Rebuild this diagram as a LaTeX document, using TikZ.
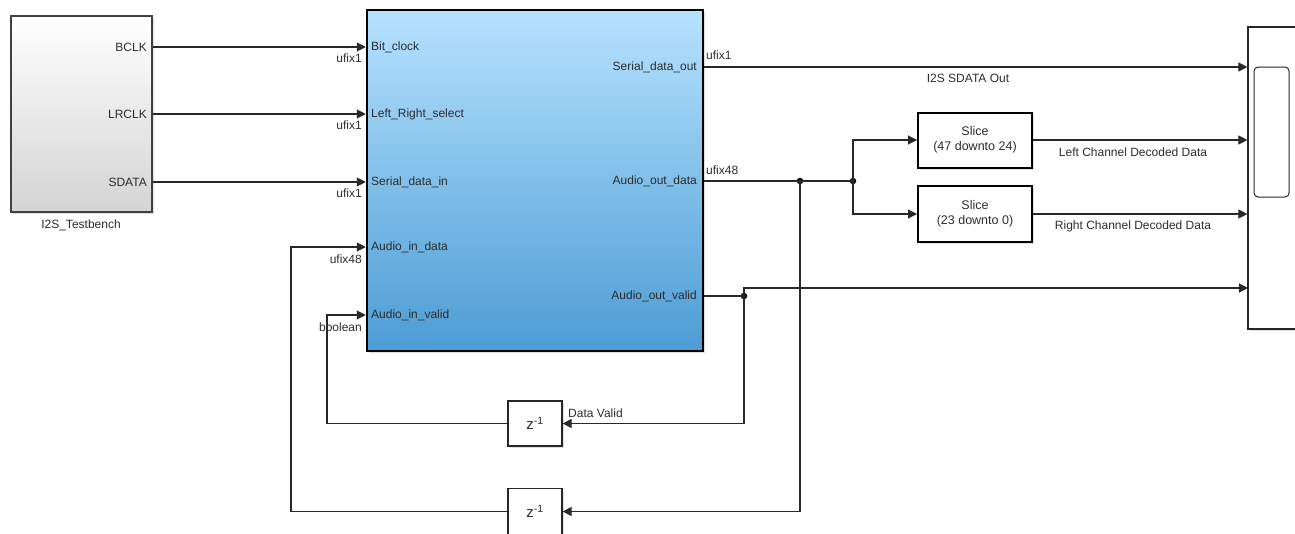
\documentclass[tikz,border=0pt]{standalone}
\usepackage{fontspec}
\setmainfont{Liberation Sans}
\usetikzlibrary{arrows.meta,shadows,calc}
\definecolor{blueTop}{RGB}{182,226,255}
\definecolor{blueBot}{RGB}{76,156,212}
\definecolor{wirec}{RGB}{40,40,40}
\definecolor{txt}{RGB}{45,45,45}
\definecolor{grayBot}{RGB}{212,212,212}
\tikzset{
  wire/.style={draw=wirec, line width=1.1pt, -{Triangle[length=9pt,width=9pt]}},
  plain/.style={draw=wirec, line width=1.1pt},
  lbl/.style={font=\fontsize{12}{14}\selectfont, text=txt, inner sep=0pt},
  shad/.style={drop shadow={shadow xshift=2pt, shadow yshift=-2pt, opacity=0.25}},
  mainblk/.style={draw=black, line width=2.5pt, top color=blueTop, bottom color=blueBot, shad},
  tbblk/.style={draw=black!75, line width=1.3pt, top color=white, bottom color=grayBot, shad},
  sliceblk/.style={draw=black, line width=2pt, fill=white, shad, align=center,
    font=\fontsize{12.5}{15.5}\selectfont, text=txt},
  delayblk/.style={draw=black!85, line width=1.2pt, fill=white, shad,
    font=\fontsize{15}{17}\selectfont, text=txt},
  scopeblk/.style={draw=black!85, line width=1.2pt, fill=white, shad},
  jdot/.style={circle, fill=black, inner sep=0pt, minimum size=6.5pt}
}
\begin{document}
\begin{tikzpicture}[x=1pt,y=-1pt]
\useasboundingbox (0,0) rectangle (1295,533);
\clip (0,0) rectangle (1295,533);
\fill[white] (0,0) rectangle (1295,533);

% blocks
\node[tbblk, minimum width=141pt, minimum height=196pt] (tb) at (81.5,114) {};
\node[lbl] (tbname) at (81,225) {I2S\_Testbench};
\node[mainblk, minimum width=336pt, minimum height=341pt] (dut) at (535,180.5) {};
\node[sliceblk, minimum width=114pt, minimum height=55pt] (s1) at (975,140) {Slice\\(47 downto 24)};
\node[sliceblk, minimum width=114pt, minimum height=56pt] (s2) at (975,214) {Slice\\(23 downto 0)};
\node[delayblk, minimum width=54pt, minimum height=45pt] (d1) at (535,423.5) {z\textsuperscript{-1}};
\node[delayblk, minimum width=54pt, minimum height=46pt] (d2) at (535,511.5) {z\textsuperscript{-1}};
\node[scopeblk, minimum width=60pt, minimum height=302pt] (scope) at (1278,178) {};
\node[draw=black!85, line width=1pt, rounded corners=4pt, minimum width=35pt, minimum height=130pt] (screen) at (1271.5,132) {};

% testbench port labels
\node[lbl, anchor=east] (tbB) at (147,47) {BCLK};
\node[lbl, anchor=east] (tbL) at (147,114) {LRCLK};
\node[lbl, anchor=east] (tbS) at (147,182) {SDATA};

% dut input port labels
\node[lbl, anchor=west] (iBC) at (371,47) {Bit\_clock};
\node[lbl, anchor=west] (iLR) at (371,114) {Left\_Right\_select};
\node[lbl, anchor=west] (iSD) at (371,182) {Serial\_data\_in};
\node[lbl, anchor=west] (iAD) at (371,247) {Audio\_in\_data};
\node[lbl, anchor=west] (iAV) at (371,315) {Audio\_in\_valid};

% dut output port labels
\node[lbl, anchor=east] (oSD) at (697,67) {Serial\_data\_out};
\node[lbl, anchor=east] (oAD) at (697,181) {Audio\_out\_data};
\node[lbl, anchor=east] (oAV) at (697,296) {Audio\_out\_valid};

% junctions and corners
\node[jdot] (j1) at (800,181) {};
\node[jdot] (j2) at (853,181) {};
\node[jdot] (j3) at (744,296) {};
\coordinate (sc4) at (1248,288);
\coordinate (fb1) at (327,315);
\coordinate (fb2) at (291,247);

% input wires
\draw[wire] (tb.east |- tbB) -- (dut.west |- iBC);
\draw[wire] (tb.east |- tbL) -- (dut.west |- iLR);
\draw[wire] (tb.east |- tbS) -- (dut.west |- iSD);

% output wires
\draw[wire] (dut.east |- oSD) -- (scope.west |- oSD);
\draw[plain] (dut.east |- oAD) -- (j2.center);
\draw[wire] (j2.center) |- (s1.west);
\draw[wire] (j2.center) |- (s2.west);
\draw[wire] (s1.east) -- (scope.west |- s1.east);
\draw[wire] (s2.east) -- (scope.west |- s2.east);
\draw[plain] (dut.east |- oAV) -- (j3.center);
\draw[wire] (j3.center) |- (sc4);
\draw[wire] (j3.center) |- (d1.east);
\draw[wire] (j1.center) |- (d2.east);
\draw[wire] (d1.west) -| (fb1) -- (dut.west |- fb1);
\draw[wire] (d2.west) -| (fb2) -- (dut.west |- fb2);

% signal labels
\node[lbl, anchor=east] at (362,58) {ufix1};
\node[lbl, anchor=east] at (362,125) {ufix1};
\node[lbl, anchor=east] at (362,193) {ufix1};
\node[lbl, anchor=east] at (362,259) {ufix48};
\node[lbl, anchor=east] at (362,327) {boolean};
\node[lbl, anchor=west] at (706,55) {ufix1};
\node[lbl, anchor=west] at (706,170) {ufix48};
\node[lbl] at (968,78) {I2S SDATA Out};
\node[lbl] at (1133,152) {Left Channel Decoded Data};
\node[lbl] at (1133,226) {Right Channel Decoded Data};
\node[lbl, anchor=west] at (568,413) {Data Valid};
\end{tikzpicture}
\end{document}
